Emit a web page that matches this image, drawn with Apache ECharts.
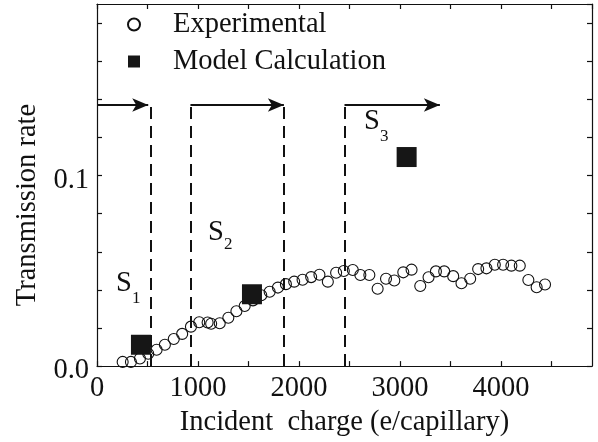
<!DOCTYPE html>
<html>
<head>
<meta charset="utf-8">
<script src="https://cdn.jsdelivr.net/npm/echarts@6/dist/echarts.min.js"></script>
<style>
  body { margin: 0; background: #fff; }
  #chart { width: 598px; height: 442px; }
</style>
</head>
<body>
<div id="chart"></div>
<script>
// experimental points (incident charge, transmission rate)
const expCharge = [254, 336, 425, 507, 590, 672, 760, 843, 930, 1012, 1095, 1130, 1215, 1300, 1380, 1462,
    1544, 1626, 1709, 1791, 1870, 1952, 2035, 2120, 2202, 2285, 2367, 2443, 2532, 2607, 2696, 2778,
    2861, 2943, 3032, 3114, 3200, 3282, 3355, 3437, 3526, 3608, 3694, 3773, 3855, 3938, 4020, 4102,
    4185, 4270, 4352, 4435]
const expRate = [0.0022, 0.0022, 0.004, 0.0065, 0.0086, 0.0112, 0.0142, 0.0169, 0.0207, 0.023, 0.0229, 0.0222,
    0.0225, 0.0254, 0.0288, 0.0315, 0.0345, 0.0372, 0.039, 0.0412, 0.043, 0.0443, 0.0453, 0.0467,
    0.0479, 0.0443, 0.049, 0.0499, 0.0504, 0.0478, 0.0478, 0.0406, 0.0458, 0.0449, 0.0492, 0.0506,
    0.042, 0.0466, 0.0497, 0.0497, 0.0472, 0.0435, 0.0458, 0.0509, 0.0513, 0.0532, 0.0532, 0.0527,
    0.0527, 0.0452, 0.0414, 0.0428]

// model calculation
const modelCharge = [435, 1534, 3065]
const modelRate = [0.0112, 0.0377, 0.1097]

// region boundaries (dashed) and the arrows on top of them
const boundaries = [530, 925, 1845, 2450]
const arrowLevel = 0.137
const arrowFrom = [0, 925, 2450]
const arrowTo = [507, 1850, 3394]

const xTickLabels = [0, 1000, 2000, 3000, 4000]
const yTickLabels = [0, 0.1]

const FONT = 'Liberation Serif'
const INK = '#111111'
const FS = 28.5

function drawChart() {
    let myChart = echarts.init(document.getElementById('chart'), null, {renderer: 'canvas'})
    let option

    const expData = expCharge.map((x, i) => [x, expRate[i]])
    const modelData = modelCharge.map((x, i) => [x, modelRate[i]])

    const dashLines = boundaries.map(x => [{coord: [x, 0]}, {coord: [x, arrowLevel]}])
    const arrowLines = arrowFrom.map((x, i) => [
        {coord: [x, arrowLevel], symbol: 'none'},
        {coord: [arrowTo[i], arrowLevel], symbol: 'arrow', symbolSize: [10, 16]}
    ])

    const xAxisBase = {
        type: 'value',
        min: 0,
        max: 4900,
        interval: 500,
        splitLine: {show: false},
        axisLine: {onZero: false, lineStyle: {color: INK, width: 1.2}},
        axisTick: {inside: true, length: 5, lineStyle: {color: INK, width: 1.2}}
    }
    const yAxisBase = {
        type: 'value',
        min: 0,
        max: 0.19,
        interval: 0.02,
        splitLine: {show: false},
        axisLine: {onZero: false, lineStyle: {color: INK, width: 1.2}},
        axisTick: {inside: true, length: 5, lineStyle: {color: INK, width: 1.2}}
    }

    option = {
        animation: false,
        backgroundColor: '#fff',
        textStyle: {fontFamily: FONT, color: INK},
        grid: {left: 97, right: 6, top: 4, bottom: 72},
        legend: {
            orient: 'vertical',
            left: 127,
            top: 10,
            padding: 0,
            itemGap: 8,
            itemWidth: 12,
            itemHeight: 12,
            data: ['Experimental', 'Model Calculation'],
            textStyle: {fontFamily: FONT, fontSize: FS, lineHeight: 28, color: INK, padding: [0, 0, 0, 28]}
        },
        xAxis: [
            Object.assign({}, xAxisBase, {
                position: 'bottom',
                name: 'Incident  charge (e/capillary)',
                nameLocation: 'middle',
                nameGap: 32,
                nameTextStyle: {fontFamily: FONT, fontSize: FS, color: INK},
                axisLabel: {
                    margin: 8,
                    fontFamily: FONT,
                    fontSize: FS,
                    color: INK,
                    showMaxLabel: false,
                    formatter: v => xTickLabels.indexOf(v) >= 0 ? String(v) : ''
                }
            }),
            Object.assign({}, xAxisBase, {position: 'top', axisLabel: {show: false}})
        ],
        yAxis: [
            Object.assign({}, yAxisBase, {
                position: 'left',
                name: 'Transmission rate',
                nameLocation: 'middle',
                nameGap: 53,
                nameTextStyle: {fontFamily: FONT, fontSize: FS, color: INK, padding: [0, 40, 0, 0]},
                axisLabel: {
                    margin: 8,
                    fontFamily: FONT,
                    fontSize: FS,
                    color: INK,
                    showMaxLabel: false,
                    formatter: v => yTickLabels.some(t => Math.abs(t - v) < 1e-9) ? '{t|' + v.toFixed(1) + '}' : '',
                    rich: {
                        t: {fontFamily: FONT, fontSize: FS, color: INK, padding: [9, 0, 0, 0]}
                    }
                }
            }),
            Object.assign({}, yAxisBase, {position: 'right', axisLabel: {show: false}})
        ],
        series: [
            {
                name: 'Experimental',
                type: 'scatter',
                symbol: 'circle',
                symbolSize: 11,
                z: 3,
                itemStyle: {color: 'rgba(255,255,255,0)', borderColor: INK, borderWidth: 1.1, opacity: 1},
                data: expData
            },
            {
                name: 'Model Calculation',
                type: 'scatter',
                symbol: 'rect',
                symbolSize: 20,
                z: 5,
                itemStyle: {color: '#161616', opacity: 1},
                data: modelData
            },
            {
                name: 'regions',
                type: 'line',
                data: [],
                z: 2,
                markLine: {
                    silent: true,
                    animation: false,
                    symbol: ['none', 'none'],
                    label: {show: false},
                    emphasis: {disabled: true},
                    lineStyle: {color: INK, width: 2, type: [12, 7]},
                    data: dashLines
                }
            },
            {
                name: 'arrows',
                type: 'line',
                data: [],
                z: 2,
                markLine: {
                    silent: true,
                    animation: false,
                    symbol: ['none', 'arrow'],
                    label: {show: false},
                    emphasis: {disabled: true},
                    lineStyle: {color: INK, width: 2, type: 'solid'},
                    itemStyle: {color: INK},
                    data: arrowLines
                }
            }
        ],
        graphic: [
            {type: 'text', left: 116, top: 269, style: {text: 'S', font: '28.5px "Liberation Serif"', fill: INK}},
            {type: 'text', left: 132, top: 290, style: {text: '1', font: '17px "Liberation Serif"', fill: INK}},
            {type: 'text', left: 208, top: 218, style: {text: 'S', font: '28.5px "Liberation Serif"', fill: INK}},
            {type: 'text', left: 224, top: 236, style: {text: '2', font: '17px "Liberation Serif"', fill: INK}},
            {type: 'text', left: 364, top: 107, style: {text: 'S', font: '28.5px "Liberation Serif"', fill: INK}},
            {type: 'text', left: 380, top: 128, style: {text: '3', font: '17px "Liberation Serif"', fill: INK}}
        ]
    }

    option && myChart.setOption(option)
}

drawChart()
</script>
</body>
</html>
